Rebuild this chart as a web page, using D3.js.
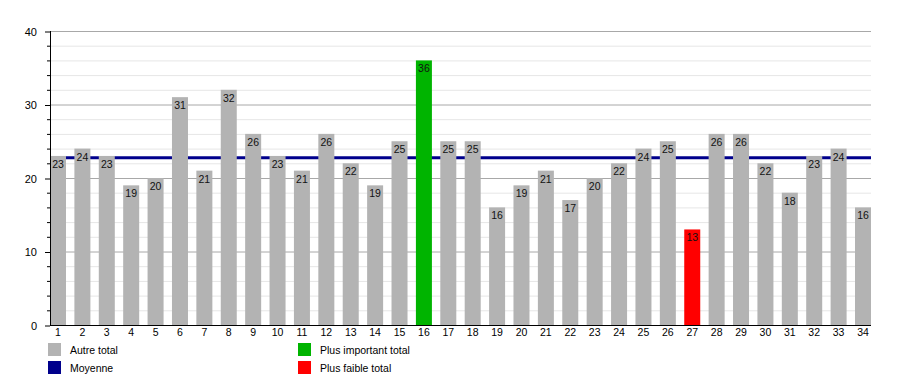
<!DOCTYPE html>
<html><head><meta charset="utf-8">
<script src="https://cdn.jsdelivr.net/npm/d3@7"></script>
<style>body{margin:0;background:#fff;}svg{display:block;font-family:"Liberation Sans",Arial,sans-serif;}</style>
</head><body>
<svg id="c" width="900" height="375"></svg>
<script>
const categories = ["1","2","3","4","5","6","7","8","9","10","11","12","13","14","15","16","17","18","19","20","21","22","23","24","25","26","27","28","29","30","31","32","33","34"];
const values = [23,24,23,19,20,31,21,32,26,23,21,26,22,19,25,36,25,25,16,19,21,17,20,22,24,25,13,26,26,22,18,23,24,16];
const meanValue = 22.74;
const yTicks = [0,10,20,30,40];
const legendLabels = ["Autre total","Moyenne","Plus important total","Plus faible total"];

const colors = {other:"#b3b3b3", mean:"#00008c", max:"#00b400", min:"#ff0000"};
const svg = d3.select("#c");
const mLeft = 50, mRight = 871, mTop = 31, mBottom = 325;

const x = d3.scaleBand().domain(categories).range([mLeft, mRight]).paddingInner(0.344).paddingOuter(0);
const y = d3.scaleLinear().domain([0, 40]).range([mBottom, mTop]);

const maxV = d3.max(values), minV = d3.min(values);

// grid
const minor = d3.range(0, 41, 2);
svg.append("g").selectAll("line").data(minor.filter(d => d % 10 !== 0)).join("line")
  .attr("x1", mLeft).attr("x2", mRight).attr("y1", d => y(d) + 0.5).attr("y2", d => y(d) + 0.5)
  .attr("stroke", "#e6e6e6").attr("stroke-width", 1);
svg.append("g").selectAll("line").data(yTicks.filter(d => d > 0)).join("line")
  .attr("x1", mLeft).attr("x2", mRight).attr("y1", d => y(d) + 0.5).attr("y2", d => y(d) + 0.5)
  .attr("stroke", "#a8a8a8").attr("stroke-width", 1);

// mean line
svg.append("line").attr("x1", mLeft).attr("x2", mRight)
  .attr("y1", y(meanValue)).attr("y2", y(meanValue))
  .attr("stroke", colors.mean).attr("stroke-width", 3);

// bars
const color = v => v === maxV ? colors.max : v === minV ? colors.min : colors.other;
svg.append("g").selectAll("rect").data(values).join("rect")
  .attr("x", (d, i) => x(categories[i])).attr("width", x.bandwidth())
  .attr("y", d => y(d)).attr("height", d => y(0) - y(d))
  .attr("fill", d => color(d));

svg.append("g").selectAll("text").data(values).join("text")
  .attr("x", (d, i) => x(categories[i]) + x.bandwidth() / 2)
  .attr("y", d => y(d) + 12)
  .attr("text-anchor", "middle").attr("font-size", 10.5).attr("fill", "#111")
  .text(d => d);

// axes
const yAxis = d3.axisLeft(y).tickValues(yTicks).tickSize(5).tickPadding(8).tickFormat(d3.format("d"));
const gy = svg.append("g").attr("transform", `translate(${mLeft},0.5)`).call(yAxis);
gy.select(".domain").remove();
gy.selectAll("text").attr("font-size", 11).attr("fill", "#000").attr("font-family", "Liberation Sans, Arial, sans-serif");
gy.selectAll("line").attr("stroke", "#000");
svg.append("g").selectAll("line").data(minor.filter(d => d % 10 !== 0)).join("line")
  .attr("x1", mLeft - 3).attr("x2", mLeft).attr("y1", d => y(d) + 0.5).attr("y2", d => y(d) + 0.5).attr("stroke", "#000");
svg.append("line").attr("x1", mLeft + 0.5).attr("x2", mLeft + 0.5).attr("y1", mTop).attr("y2", mBottom).attr("stroke", "#000");

const xAxis = d3.axisBottom(x).tickSize(0).tickPadding(4);
const gx = svg.append("g").attr("transform", `translate(0,${mBottom})`).call(xAxis);
gx.select(".domain").remove();
gx.selectAll("text").attr("font-size", 10.5).attr("fill", "#000").attr("font-family", "Liberation Sans, Arial, sans-serif");
svg.append("line").attr("x1", mLeft).attr("x2", mRight).attr("y1", mBottom + 0.5).attr("y2", mBottom + 0.5).attr("stroke", "#000");

// legend
const legend = [
  {label: legendLabels[0], color: colors.other, x: 48, y: 343},
  {label: legendLabels[1], color: colors.mean, x: 48, y: 361},
  {label: legendLabels[2], color: colors.max, x: 298, y: 343},
  {label: legendLabels[3], color: colors.min, x: 298, y: 361}
];
const lg = svg.append("g").selectAll("g").data(legend).join("g")
  .attr("transform", d => `translate(${d.x},${d.y})`);
lg.append("rect").attr("width", 13).attr("height", 13).attr("fill", d => d.color);
lg.append("text").attr("x", 22).attr("y", 10.5).attr("font-size", 10.5).attr("fill", "#000").text(d => d.label);
</script>
</body></html>
